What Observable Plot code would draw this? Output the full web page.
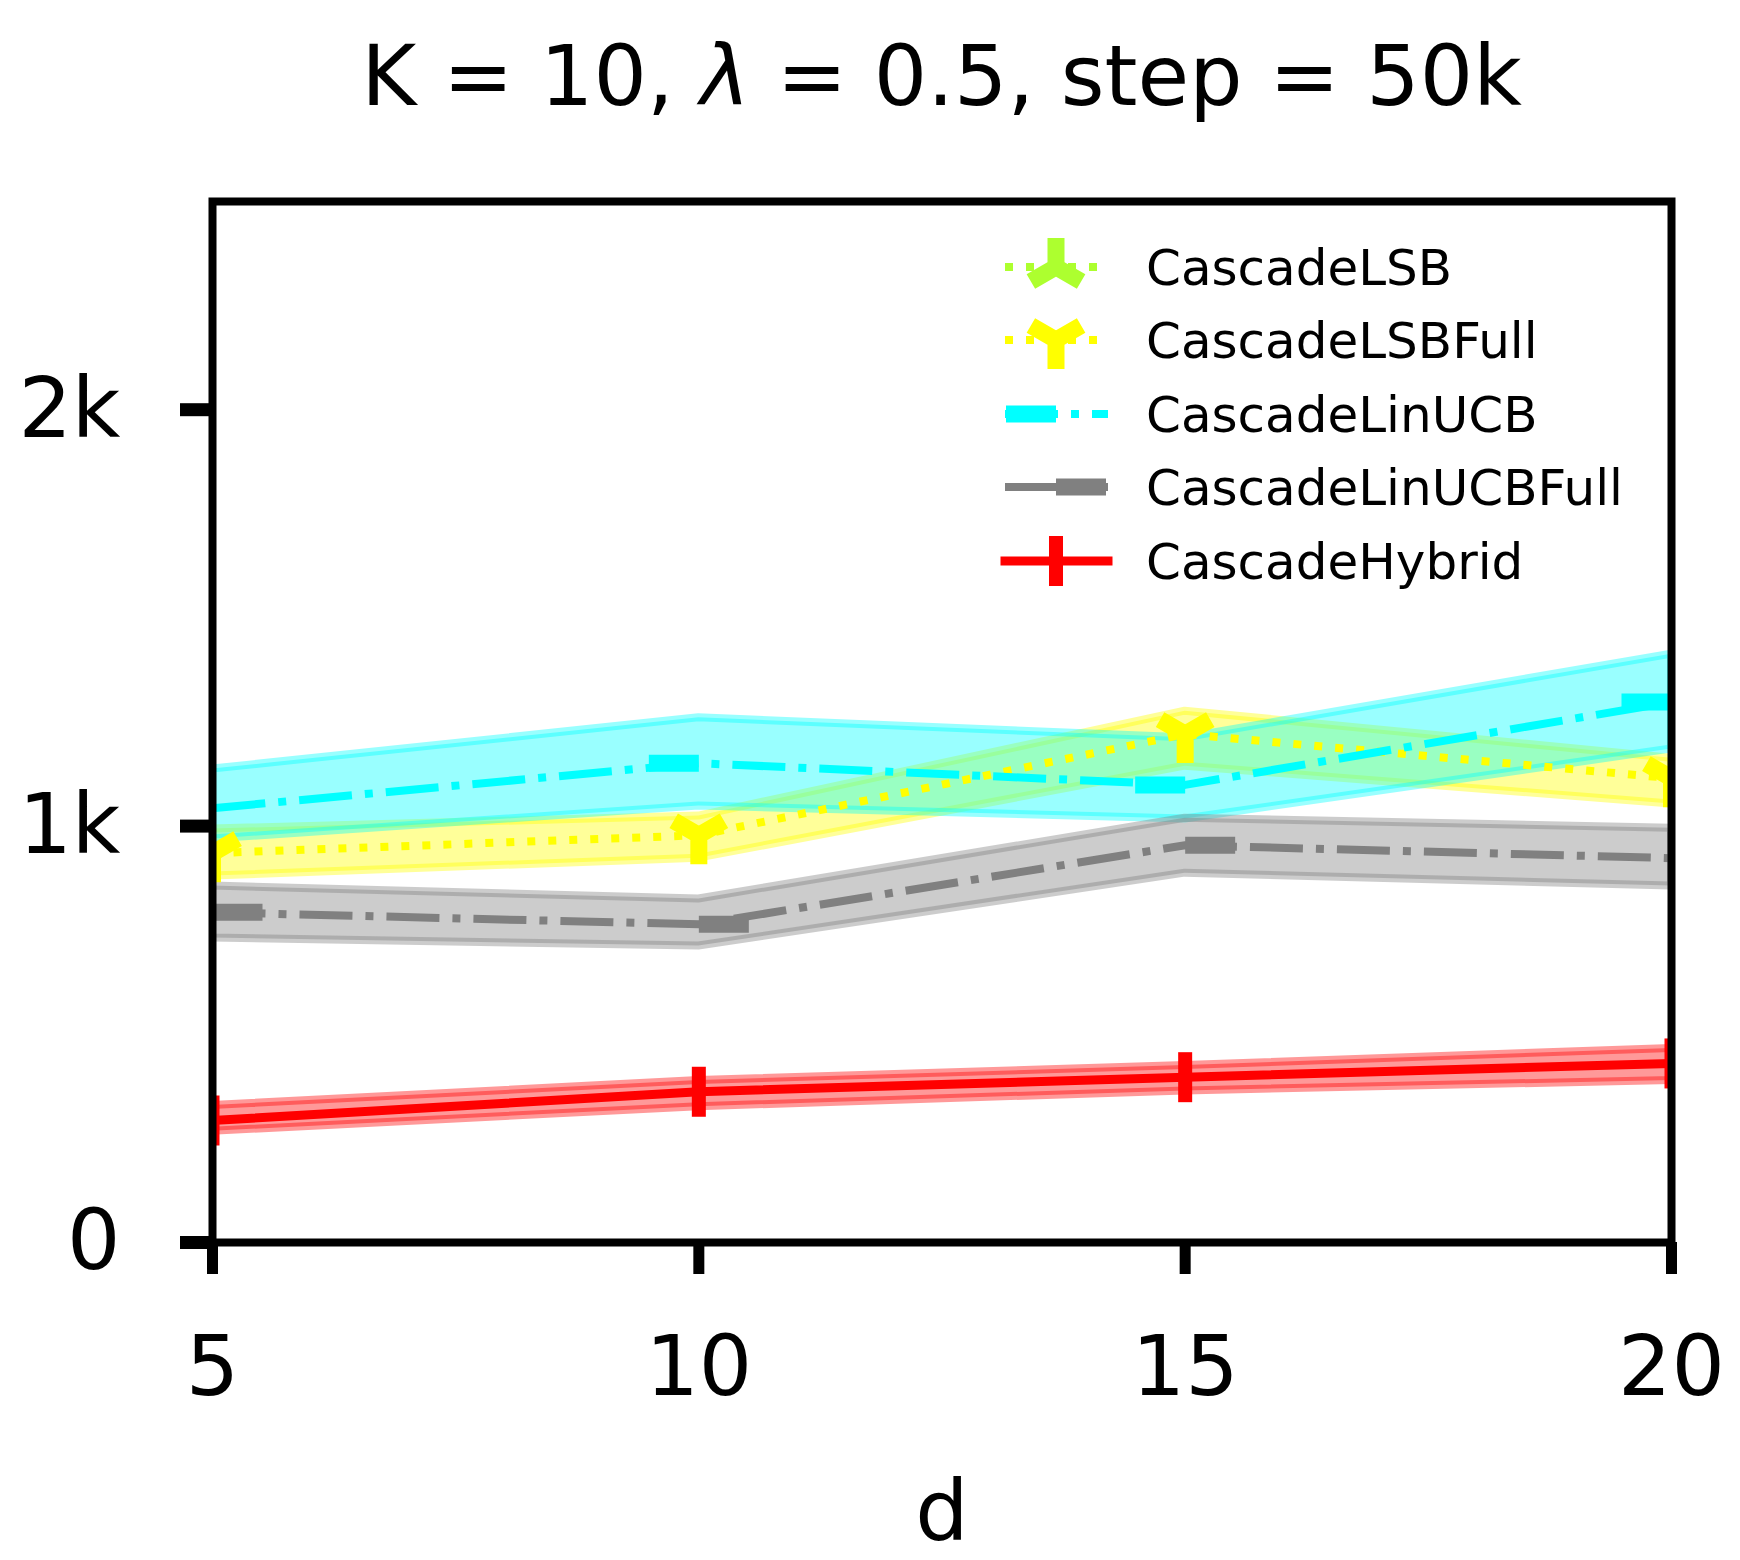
<!DOCTYPE html>
<html>
<head>
<meta charset="utf-8">
<script src="https://cdn.jsdelivr.net/npm/d3@7"></script>
<script src="https://cdn.jsdelivr.net/npm/@observablehq/plot@0.6"></script>
<style>
  html, body { margin: 0; padding: 0; background: #fff; }
  #wrap { position: relative; width: 1740px; height: 1560px; font-family: "DejaVu Sans", sans-serif; color: #000; }
  #title { position: absolute; left: 212px; width: 1459px; top: 0; height: 152px; line-height: 152px;
           text-align: center; font-size: 84px; white-space: nowrap; }
  #title i { font-style: oblique; }
  #chart { position: absolute; left: 0; top: 152px; }
  #legend { position: absolute; left: 0; top: 0; pointer-events: none; }
</style>
</head>
<body>
<div id="wrap">
  <div id="title">K = 10, <i>λ</i> = 0.5, step = 50k</div>
  <div id="chart"></div>
  <svg id="legend" width="1740" height="1560"></svg>
</div>
<script>
// ---------------- data ----------------
const dValues = [5, 10, 15, 20];
const seriesNames = ["CascadeLSB", "CascadeLSBFull", "CascadeLinUCB", "CascadeLinUCBFull", "CascadeHybrid"];
const seriesColors = ["#adff2f", "#ffff00", "#00ffff", "#808080", "#ff0000"];

// CascadeLSB: listed in the legend, no visible curve in the picture
const lsbMean = [];
const lsbLo = [];
const lsbHi = [];

const lsbFullMean = [935, 978, 1221, 1115];
const lsbFullLo   = [880, 923, 1144, 1053];
const lsbFullHi   = [993, 1024, 1276, 1163];

const linUcbMean = [1043, 1151, 1099, 1298];
const linUcbLo   = [969, 1048, 1017, 1185];
const linUcbHi   = [1137, 1260, 1212, 1413];

const linUcbFullMean = [793, 764, 954, 923];
const linUcbFullLo   = [731, 712, 887, 856];
const linUcbFullHi   = [856, 825, 1019, 995];

const hybridMean = [293, 362, 397, 430];
const hybridLo   = [267, 326, 364, 389];
const hybridHi   = [329, 389, 425, 466];

const xTicks = [5, 10, 15, 20];
const yTicks = [0, 1000, 2000];
const yTickLabels = ["0", "1k", "2k"];
const xLabel = "d";

// ---------------- marker symbols ----------------
const rOf = size => Math.sqrt(size / Math.PI);
const triUp = { draw(c, size) { const r = rOf(size);
  c.moveTo(0, 0); c.lineTo(0, -r);
  c.moveTo(0, 0); c.lineTo(-0.866 * r, 0.5 * r);
  c.moveTo(0, 0); c.lineTo(0.866 * r, 0.5 * r); } };
const triDown = { draw(c, size) { const r = rOf(size);
  c.moveTo(0, 0); c.lineTo(0, r);
  c.moveTo(0, 0); c.lineTo(-0.866 * r, -0.5 * r);
  c.moveTo(0, 0); c.lineTo(0.866 * r, -0.5 * r); } };
const tickLeft = { draw(c, size) { const r = rOf(size); c.moveTo(0, 0); c.lineTo(-r, 0); } };
const tickRight = { draw(c, size) { const r = rOf(size); c.moveTo(0, 0); c.lineTo(r, 0); } };
const vLine = { draw(c, size) { const r = rOf(size); c.moveTo(0, -r); c.lineTo(0, r); } };

const styles = [
  { symbol: triUp,     r: 29, mw: 17, dash: "8,13",          lw: 8, cap: "butt" },
  { symbol: triDown,   r: 29, mw: 17, dash: "8,13",          lw: 8, cap: "butt" },
  { symbol: tickLeft,  r: 50, mw: 17, dash: "53,13,8,13",    lw: 8, cap: "butt" },
  { symbol: tickRight, r: 50, mw: 17, dash: "53,13,8,13",    lw: 8, cap: "butt" },
  { symbol: vLine,     r: 25, mw: 14, dash: null,            lw: 9, cap: "square" }
];

const means = [lsbMean, lsbFullMean, linUcbMean, linUcbFullMean, hybridMean];
const los = [lsbLo, lsbFullLo, linUcbLo, linUcbFullLo, hybridLo];
const his = [lsbHi, lsbFullHi, linUcbHi, linUcbFullHi, hybridHi];

const tables = seriesNames.map((name, i) =>
  means[i].map((m, j) => ({ series: name, d: dValues[j], mean: m, lo: los[i][j], hi: his[i][j] })));

// ---------------- chart ----------------
const bandMarks = tables.map((rows, i) => Plot.areaY(rows, {
  x: "d", y1: "lo", y2: "hi", fill: seriesColors[i], fillOpacity: 0.4,
  stroke: seriesColors[i], strokeOpacity: 0.4, strokeWidth: 8, clip: true
}));
const lineMarks = tables.map((rows, i) => Plot.line(rows, {
  x: "d", y: "mean", stroke: seriesColors[i], strokeWidth: styles[i].lw,
  strokeDasharray: styles[i].dash || undefined, strokeLinecap: styles[i].cap,
  strokeLinejoin: "round", clip: true
}));
const dotMarks = tables.map((rows, i) => Plot.dot(rows, {
  x: "d", y: "mean", symbol: styles[i].symbol, r: styles[i].r, fill: "none",
  stroke: seriesColors[i], strokeWidth: styles[i].mw, strokeLinecap: "butt",
  strokeLinejoin: "miter", clip: true
}));

const chart = Plot.plot({
  width: 1740,
  height: 1408,
  marginLeft: 212,
  marginRight: 69,
  marginTop: 49,
  marginBottom: 318,
  style: { fontFamily: "DejaVu Sans, sans-serif", fontSize: "84px", color: "black", background: "white", overflow: "visible" },
  x: { domain: [5, 20] },
  y: { domain: [0, 2500] },
  marks: [
    ...bandMarks,
    ...lineMarks,
    ...dotMarks,
    Plot.frame({ stroke: "black", strokeWidth: 8 }),
    Plot.axisX(xTicks, { tickSize: 32, tickPadding: 61, strokeWidth: 11, fontSize: 84, label: null, tickFormat: d => String(d) }),
    Plot.axisY(yTicks, { tickSize: 32, tickPadding: 60, strokeWidth: 13, fontSize: 84, label: null,
      tickFormat: d => yTickLabels[yTicks.indexOf(d)] }),
    Plot.text([xLabel], { text: d => d, frameAnchor: "bottom", dy: 271, lineAnchor: "middle", fontSize: 84 })
  ]
});
document.getElementById("chart").appendChild(chart);

// ---------------- legend ----------------
const legend = d3.select("#legend");
const rowY = [267, 340, 414, 487, 561];
const x0 = 1005, x1 = 1108, xm = 1056, xt = 1146;
seriesNames.forEach((name, i) => {
  const s = styles[i];
  const y = rowY[i];
  legend.append("line")
    .attr("x1", x0).attr("x2", x1).attr("y1", y).attr("y2", y)
    .attr("stroke", seriesColors[i]).attr("stroke-width", s.lw)
    .attr("stroke-linecap", s.cap)
    .attr("stroke-dasharray", s.dash);
  const p = d3.path();
  s.symbol.draw(p, s.r * s.r * Math.PI);
  legend.append("path")
    .attr("d", p.toString())
    .attr("transform", `translate(${xm},${y})`)
    .attr("fill", "none").attr("stroke", seriesColors[i])
    .attr("stroke-width", s.mw).attr("stroke-linecap", "butt").attr("stroke-linejoin", "miter");
  legend.append("text")
    .attr("x", xt).attr("y", y).attr("dy", "0.36em")
    .attr("font-family", "DejaVu Sans, sans-serif").attr("font-size", 50)
    .attr("fill", "black")
    .text(name);
});
</script>
</body>
</html>
